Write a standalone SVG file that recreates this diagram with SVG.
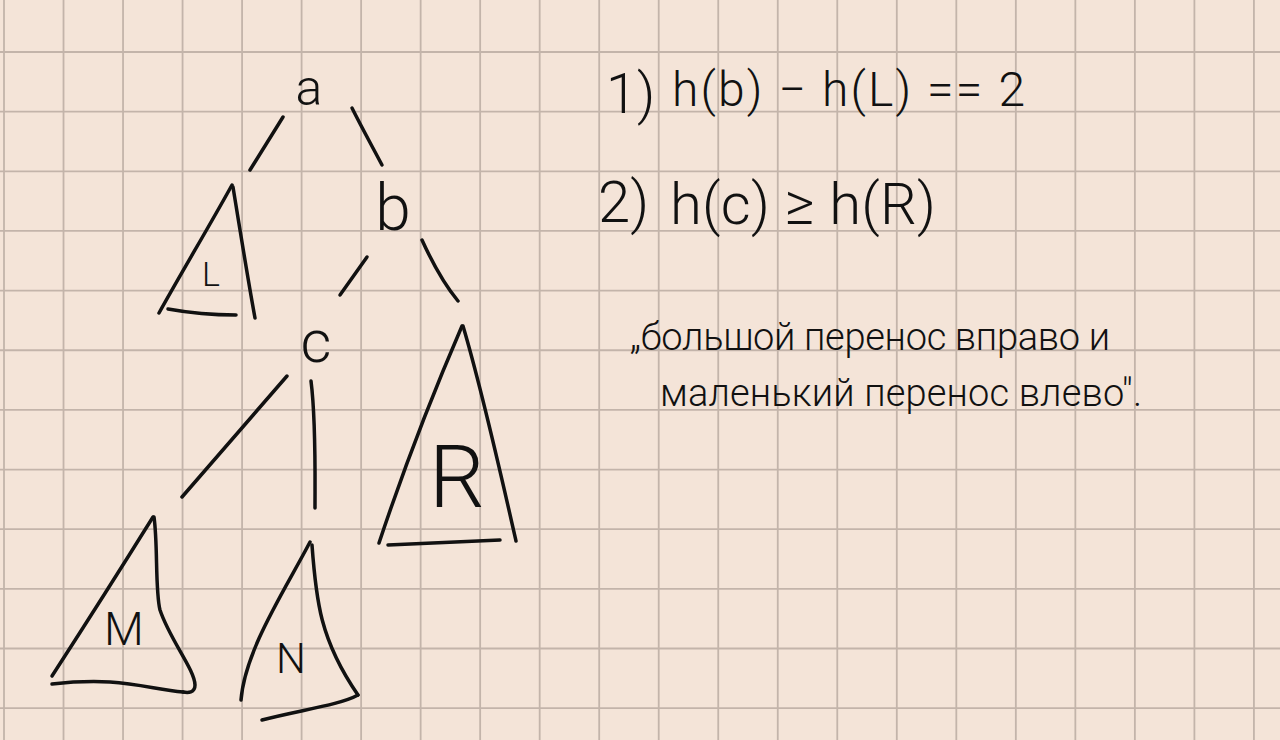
<svg xmlns="http://www.w3.org/2000/svg" width="1280" height="740" viewBox="0 0 1280 740">
<style>
.grid{stroke:#C3B4AA;stroke-width:1.8;fill:none}
.ink{stroke:#111;stroke-width:3.5;fill:none;stroke-linecap:round;stroke-linejoin:round}
.t{font-family:Roboto,"Liberation Sans","DejaVu Sans",sans-serif;font-weight:300;fill:#111}
</style>
<rect width="1280" height="740" fill="#F4E4D8"/>
<path class="grid" d="M4,0V740M63.52,0V740M123.04,0V740M182.56,0V740M242.08,0V740M301.6,0V740M361.12,0V740M420.64,0V740M480.16,0V740M539.68,0V740M599.2,0V740M658.72,0V740M718.24,0V740M777.76,0V740M837.28,0V740M896.8,0V740M956.32,0V740M1015.84,0V740M1075.36,0V740M1134.88,0V740M1194.4,0V740M1253.92,0V740M0,52H1280M0,111.65H1280M0,171.3H1280M0,230.95H1280M0,290.6H1280M0,350.25H1280M0,409.9H1280M0,469.55H1280M0,529.2H1280M0,588.85H1280M0,648.5H1280M0,708.15H1280"/>

<g id="connectors" class="ink">
<path d="M283,117 L250,170"/>
<path d="M352,108 C362,128 372,146 382,165"/>
<path d="M367,257 L340,295"/>
<path d="M422,240 C432,262 444,284 458,301"/>
<path d="M287,376 L182,497"/>
<path d="M311,381 C316,420 315,470 315,508"/>
</g>

<g id="node-a"><text class="t" x="309" y="105" font-size="50" text-anchor="middle">a</text></g>
<g id="node-b"><text class="t" x="393" y="230" font-size="64" text-anchor="middle">b</text></g>
<g id="node-c"><text class="t" x="316" y="362" font-size="60" text-anchor="middle">c</text></g>

<g id="subtree-L">
<path class="ink" d="M232,185 C210,225 180,275 159,313"/>
<path class="ink" d="M233,187 C240,230 248,280 255,318"/>
<path class="ink" d="M168,309 C190,313 215,315 236,315"/>
<text class="t" x="211" y="286" font-size="34" text-anchor="middle">L</text>
</g>

<g id="subtree-R">
<path class="ink" d="M462,326 C430,400 400,480 379,543"/>
<path class="ink" d="M463,326 C482,390 500,470 516,541"/>
<path class="ink" d="M388,545 L500,540"/>
<text class="t" x="457" y="507" font-size="88" text-anchor="middle">R</text>
</g>

<g id="subtree-M">
<path class="ink" d="M153,517 C120,570 85,625 52,676"/>
<path class="ink" d="M154,517 C158,545 155,590 160,610 C170,640 195,670 195,685 C195,693 188,693 183,692"/>
<path class="ink" d="M52,684 C70,682 90,681 110,682 C140,684 160,690 183,692"/>
<text class="t" x="124" y="645" font-size="46" text-anchor="middle">M</text>
</g>

<g id="subtree-N">
<path class="ink" d="M310,542 C285,590 245,650 241,700"/>
<path class="ink" d="M312,545 C316,600 320,640 358,695"/>
<path class="ink" d="M358,695 C340,705 300,710 262,720"/>
<text class="t" x="291" y="673" font-size="42" text-anchor="middle">N</text>
</g>

<g id="notes">
<text class="t" x="606" y="113" font-size="56">1)</text>
<text class="t" x="672" y="106" font-size="48" textLength="353" lengthAdjust="spacing">h(b) − h(L) == 2</text>
<text class="t" x="598" y="222" font-size="58">2)</text>
<text class="t" x="670" y="224" font-size="58" textLength="266" lengthAdjust="spacing">h(c) ≥ h(R)</text>
<text class="t" x="630" y="350" font-size="38" textLength="480" lengthAdjust="spacing">„большой перенос вправо и</text>
<text class="t" x="660" y="406" font-size="38" textLength="482" lengthAdjust="spacing">маленький перенос влево".</text>
</g>
</svg>
